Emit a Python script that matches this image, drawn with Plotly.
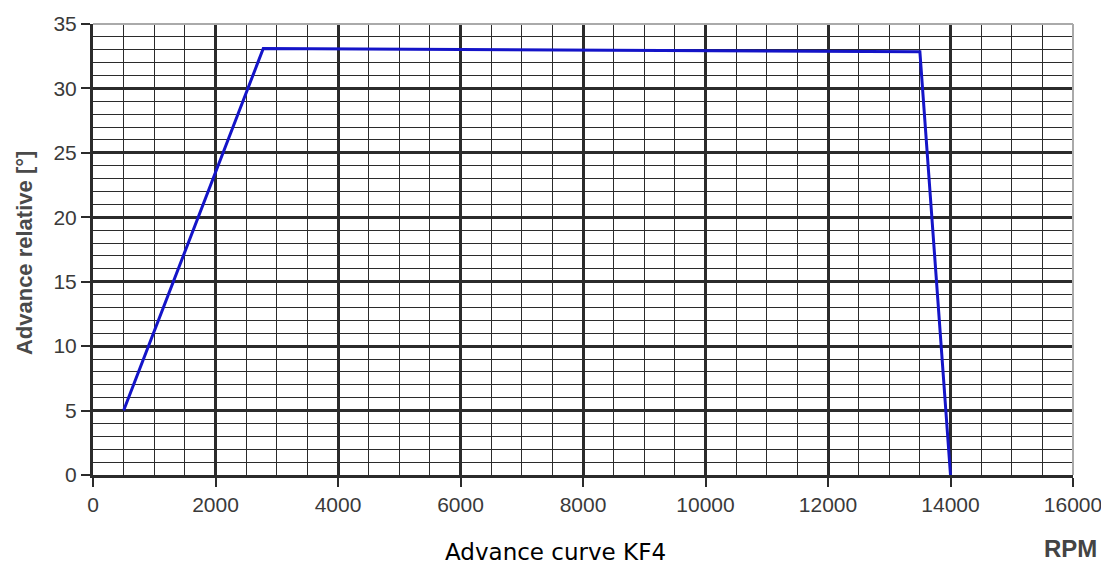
import plotly.graph_objects as go

# Advance curve KF4
rpm = [500, 2780, 13500, 14000]
advance = [5.0, 33.1, 32.85, 0.0]

x_ticks = [0, 2000, 4000, 6000, 8000, 10000, 12000, 14000, 16000]
x_labels = [str(v) for v in x_ticks]
y_ticks = [0, 5, 10, 15, 20, 25, 30, 35]

GRID = "#2b2b2b"
TICK_FONT = {"family": "Liberation Sans, Arial, sans-serif", "size": 21, "color": "#3a3a3a"}

# page body has an 8px margin, so the figure is a bit smaller and shifted
PAD = 8
W, H = 1109 - PAD, 565 - PAD

fig = go.Figure()
fig.add_trace(go.Scatter(
    x=rpm, y=advance, mode="lines",
    line={"color": "#1414c8", "width": 3},
    hoverinfo="skip", showlegend=False,
))

fig.update_layout(
    width=W, height=H,
    margin={"l": 93 - PAD, "r": 36, "t": 24 - PAD, "b": 90, "autoexpand": False},
    paper_bgcolor="white", plot_bgcolor="white",
    showlegend=False,
    xaxis={
        "range": [0, 16000], "tickvals": x_ticks, "ticktext": x_labels,
        "ticks": "outside", "ticklen": 9, "tickwidth": 2, "tickcolor": GRID,
        "showgrid": True, "gridcolor": GRID, "gridwidth": 2.5,
        "minor": {"dtick": 500, "showgrid": True, "gridcolor": GRID, "gridwidth": 1.3},
        "showline": True, "linecolor": GRID, "linewidth": 3,
        "zeroline": False,
        "tickfont": TICK_FONT,
    },
    yaxis={
        "range": [0, 35], "tickvals": y_ticks,
        "ticks": "outside", "ticklen": 9, "tickwidth": 2, "tickcolor": GRID,
        "showgrid": True, "gridcolor": GRID, "gridwidth": 2.5,
        "minor": {"dtick": 1, "showgrid": True, "gridcolor": GRID, "gridwidth": 1.3},
        "showline": True, "linecolor": GRID, "linewidth": 3,
        "zeroline": False,
        "tickfont": TICK_FONT,
    },
    shapes=[
        {"type": "line", "xref": "paper", "yref": "paper", "x0": 0, "x1": 1, "y0": 1, "y1": 1,
         "line": {"color": "#aaaaaa", "width": 2}},
        {"type": "line", "xref": "paper", "yref": "paper", "x0": 1, "x1": 1, "y0": 0, "y1": 1,
         "line": {"color": "#aaaaaa", "width": 2}},
    ],
    annotations=[
        {"text": "Advance curve KF4", "xref": "paper", "yref": "paper",
         "x": (555 - 93) / 980, "y": -0.171, "showarrow": False,
         "xanchor": "center", "yanchor": "middle",
         "font": {"family": "DejaVu Sans, Verdana, sans-serif", "size": 23, "color": "#000000"}},
        {"text": "<b>RPM</b>", "xref": "paper", "yref": "paper",
         "x": (1070 - 93) / 980, "y": -0.162, "showarrow": False,
         "xanchor": "center", "yanchor": "middle",
         "font": {"family": "Liberation Sans, Arial, sans-serif", "size": 24, "color": "#444444"}},
        {"text": "<b>Advance relative [°]</b>", "xref": "paper", "yref": "paper",
         "x": (24 - 93) / 980, "y": 0.492, "showarrow": False, "textangle": -90,
         "xanchor": "center", "yanchor": "middle",
         "font": {"family": "Liberation Sans, Arial, sans-serif", "size": 22, "color": "#4a4a4a"}},
    ],
)

fig.write_html("out.html")
